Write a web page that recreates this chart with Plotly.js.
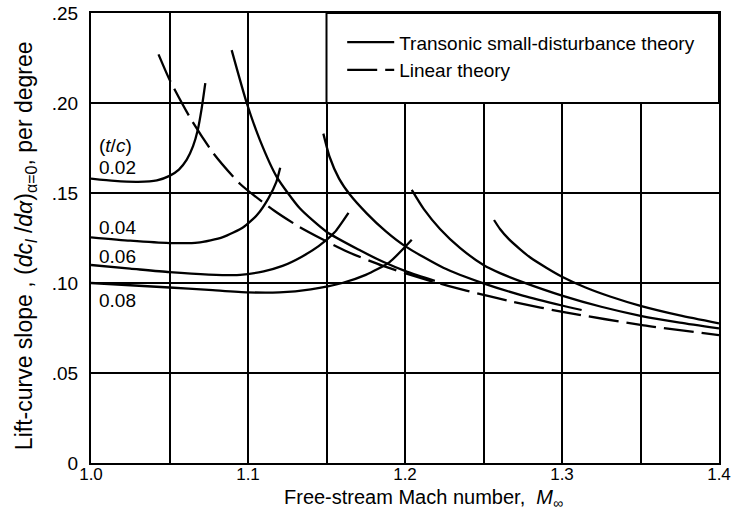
<!DOCTYPE html>
<html>
<head>
<meta charset="utf-8">
<script src="https://cdn.plot.ly/plotly-3.0.1.min.js"></script>
<style>
  html, body { margin: 0; padding: 0; background: #fff; }
  #chart { width: 739px; height: 510px; }
</style>
</head>
<body>
<div id="chart"></div>
<script>
// ---- Data ----
// Subsonic (lower) branches, transonic small-disturbance theory, by thickness ratio t/c
const machSub002  = [1.000, 1.015, 1.030, 1.042, 1.050, 1.056, 1.061, 1.065, 1.068, 1.0705, 1.0728];
const slopeSub002 = [0.158, 0.1567, 0.1562, 0.157, 0.1595, 0.163, 0.1685, 0.176, 0.185, 0.197, 0.211];

const machSub004  = [1.000, 1.025, 1.050, 1.068, 1.084, 1.097, 1.106, 1.113, 1.118, 1.1205];
const slopeSub004 = [0.1254, 0.1235, 0.1222, 0.1224, 0.1255, 0.131, 0.138, 0.147, 0.156, 0.164];

const machSub006  = [1.000, 1.025, 1.050, 1.075, 1.095, 1.110, 1.122, 1.134, 1.145, 1.155, 1.164];
const slopeSub006 = [0.110, 0.108, 0.106, 0.1047, 0.1045, 0.1065, 0.1095, 0.1145, 0.1205, 0.128, 0.139];

const machSub008  = [1.000, 1.050, 1.075, 1.100, 1.120, 1.140, 1.160, 1.175, 1.190, 1.2043];
const slopeSub008 = [0.100, 0.0975, 0.0962, 0.0948, 0.0948, 0.0965, 0.100, 0.1045, 0.1115, 0.124];

// Supersonic (upper) branches, transonic small-disturbance theory
const machSup002  = [1.0896, 1.0992, 1.1076, 1.1183, 1.133, 1.150, 1.171, 1.186, 1.2015, 1.219];
const slopeSup002 = [0.2294, 0.200, 0.1794, 0.159, 0.1415, 0.1285, 0.1183, 0.1118, 0.1062, 0.1012];

const machSup004  = [1.148, 1.152, 1.158, 1.165, 1.1756, 1.188, 1.200, 1.2244, 1.250, 1.275, 1.300, 1.3125];
const slopeSup004 = [0.183, 0.170, 0.158, 0.149, 0.1387, 0.1285, 0.1205, 0.1085, 0.0998, 0.093, 0.0875, 0.085];

const machSup006  = [1.2043, 1.212, 1.2223, 1.235, 1.250, 1.2605, 1.275, 1.300, 1.325, 1.350, 1.375, 1.400];
const slopeSup006 = [0.1517, 0.141, 0.130, 0.1195, 0.110, 0.1055, 0.1005, 0.0930, 0.0868, 0.0818, 0.0780, 0.0748];

const machSup008  = [1.2567, 1.2605, 1.266, 1.273, 1.2796, 1.290, 1.300, 1.315, 1.3306, 1.350, 1.375, 1.400];
const slopeSup008 = [0.135, 0.130, 0.1245, 0.119, 0.1143, 0.1085, 0.1035, 0.0975, 0.0925, 0.0873, 0.0820, 0.0776];

// Linear theory
const machLinear  = [1.043, 1.050, 1.063, 1.078, 1.095, 1.117, 1.133, 1.148, 1.163, 1.186, 1.216, 1.239, 1.269, 1.303, 1.352, 1.400];
const slopeLinear = [0.227, 0.213, 0.192, 0.172, 0.155, 0.140, 0.131, 0.124, 0.1175, 0.1095, 0.1012, 0.0958, 0.0895, 0.0835, 0.0765, 0.0710];

// Labels
const thicknessLabels = ['0.02', '0.04', '0.06', '0.08'];
const thicknessLabelY = [0.1644, 0.1306, 0.1150, 0.0905];
const xTickVals = [1.0, 1.1, 1.2, 1.3, 1.4];
const xTickText = ['1.0', '1.1', '1.2', '1.3', '1.4'];
const xMinorVals = [1.05, 1.15, 1.25, 1.35];
const yTickVals = [0, 0.05, 0.10, 0.15, 0.20, 0.25];
const yTickText = ['0', '.05', '.10', '.15', '.20', '.25'];

// ---- Chart ----
const FONT = 'Liberation Sans, Arial, sans-serif';
const LW = 2.3;

function solid(x, y, name, show) {
  return {
    x: x, y: y, type: 'scatter', mode: 'lines', name: name,
    showlegend: !!show,
    line: { color: '#000', width: LW, shape: 'spline', smoothing: 0.6 },
    hoverinfo: 'skip'
  };
}

const traces = [
  solid(machSub002, slopeSub002, 'Transonic small-disturbance theory', true),
  solid(machSub004, slopeSub004, 't/c 0.04 sub'),
  solid(machSub006, slopeSub006, 't/c 0.06 sub'),
  solid(machSub008, slopeSub008, 't/c 0.08 sub'),
  solid(machSup002, slopeSup002, 't/c 0.02 sup'),
  solid(machSup004, slopeSup004, 't/c 0.04 sup'),
  solid(machSup006, slopeSup006, 't/c 0.06 sup'),
  solid(machSup008, slopeSup008, 't/c 0.08 sup'),
  {
    x: machLinear, y: slopeLinear, type: 'scatter', mode: 'lines',
    name: 'Linear theory', showlegend: true,
    line: { color: '#000', width: LW, dash: '30px,8px', shape: 'spline', smoothing: 0.6 },
    hoverinfo: 'skip'
  }
];

const annotations = [
  {
    text: '(<i>t</i>/<i>c</i>)', x: 1.0035, y: 0.1765, xref: 'x', yref: 'y',
    xanchor: 'left', yanchor: 'middle', showarrow: false,
    font: { family: FONT, size: 19, color: '#000' }
  },
  {
    text: 'Lift-curve slope , (<i>dc</i><sub><i>l</i></sub> /<i>dα</i>)<sub>α=0</sub>, per degree',
    x: -0.105, y: 0.482, xref: 'paper', yref: 'paper', textangle: -90,
    xanchor: 'center', yanchor: 'middle', showarrow: false,
    font: { family: FONT, size: 23, color: '#000' }
  },
  {
    text: 'Free-stream Mach number,  <i>M</i><sub>∞</sub>',
    x: 0.530, y: -0.078, xref: 'paper', yref: 'paper',
    xanchor: 'center', yanchor: 'middle', showarrow: false,
    font: { family: FONT, size: 20, color: '#000' }
  }
];
thicknessLabels.forEach(function (t, i) {
  annotations.push({
    text: t, x: 1.004, y: thicknessLabelY[i], xref: 'x', yref: 'y',
    xanchor: 'left', yanchor: 'middle', showarrow: false,
    font: { family: FONT, size: 19, color: '#000' }
  });
});

const layout = {
  width: 739, height: 510,
  margin: { l: 91, r: 20, t: 13, b: 47, pad: 0 },
  paper_bgcolor: '#fff', plot_bgcolor: '#fff',
  font: { family: FONT, size: 19, color: '#000' },
  showlegend: true,
  legend: {
    x: 0.40, y: 0.977, xanchor: 'left', yanchor: 'top',
    bgcolor: 'rgba(0,0,0,0)', borderwidth: 0,
    font: { family: FONT, size: 19, color: '#000' },
    itemwidth: 47
  },
  xaxis: {
    range: [1.0, 1.4], tickmode: 'array', tickvals: xTickVals, ticktext: xTickText,
    showgrid: true, gridcolor: '#000', gridwidth: 2,
    minor: { tickmode: 'array', tickvals: xMinorVals, showgrid: true, gridcolor: '#000', gridwidth: 2, ticks: '' },
    showline: true, linecolor: '#000', linewidth: 2, mirror: true,
    ticks: '', zeroline: false, fixedrange: true, ticklabelstandoff: -5,
    tickfont: { family: FONT, size: 17, color: '#000' }
  },
  yaxis: {
    range: [0, 0.25], tickmode: 'array', tickvals: yTickVals, ticktext: yTickText,
    showgrid: true, gridcolor: '#000', gridwidth: 2,
    showline: true, linecolor: '#000', linewidth: 2, mirror: true,
    ticks: '', zeroline: false, fixedrange: true, ticklabelstandoff: 7,
    tickfont: { family: FONT, size: 19, color: '#000' }
  },
  shapes: [
    {
      type: 'rect', xref: 'x', yref: 'y', x0: 1.15, x1: 1.4, y0: 0.20, y1: 0.25,
      fillcolor: '#fff', line: { color: '#000', width: 2 }, layer: 'between'
    }
  ],
  annotations: annotations
};

Plotly.newPlot('chart', traces, layout, { displayModeBar: false, staticPlot: true });
</script>
</body>
</html>
